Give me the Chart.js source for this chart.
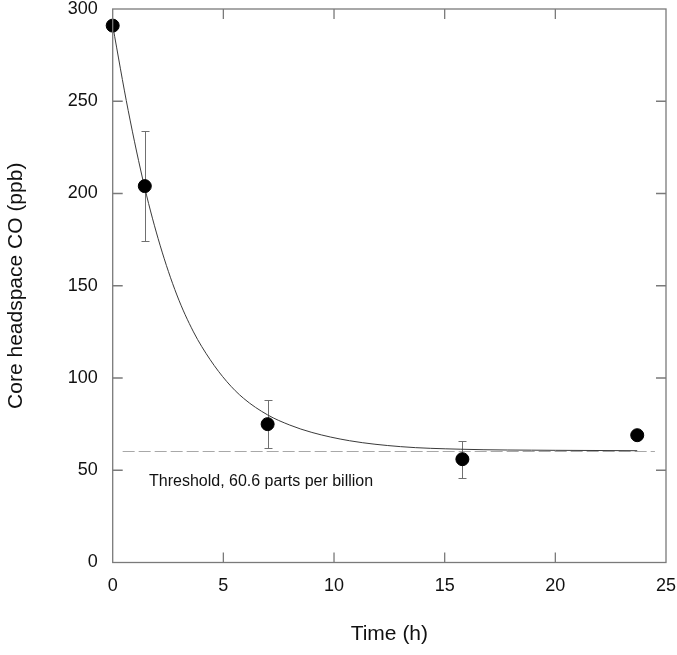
<!DOCTYPE html>
<html>
<head>
<meta charset="utf-8">
<script src="https://cdn.jsdelivr.net/npm/chart.js@4.4.1/dist/chart.umd.min.js"></script>
<style>
  html, body { margin: 0; padding: 0; background: #fff; }
  #wrap { width: 677px; height: 655px; position: relative; }
</style>
</head>
<body>
<div id="wrap"><canvas id="c" width="677" height="655"></canvas></div>
<script>
// ---- data ----
const times = [0, 1.45, 7.0, 15.8, 23.7];
const coValues = [291, 204, 75, 56, 69];
const coErrors = [0, 30, 13, 10, 0];

const fitTimes  = [0, 0.7, 1.45, 2.14, 2.9, 3.65, 4.4, 5.16, 5.91, 7.0, 8.0, 9.0, 10.7, 13.0, 15.7, 20.0, 23.7];
const fitValues = [291, 245, 203, 172, 145, 125, 110, 98, 89, 80, 74.5, 70.5, 66, 62.8, 61.4, 60.8, 60.6];

const thresholdValue = 60.6;
const thresholdRange = [0.45, 24.5];
const thresholdLabel = "Threshold, 60.6 parts per billion";
const thresholdLabelAt = [1.64, 43.8];

const xTicks = [0, 5, 10, 15, 20, 25];
const yTicks = [0, 50, 100, 150, 200, 250, 300];

const FONT = "'Liberation Sans', Arial, sans-serif";
const AXIS_COLOR = '#7a7a7a';

// ---- plugins ----
const framePlugin = {
  id: 'frame',
  afterDatasetsDraw(chart) {
    const {ctx, chartArea: a, scales: {x, y}} = chart;
    ctx.save();
    ctx.strokeStyle = AXIS_COLOR;
    ctx.lineWidth = 1.3;
    ctx.strokeRect(a.left, a.top, a.right - a.left, a.bottom - a.top);
    const L = 10;
    ctx.beginPath();
    xTicks.forEach(v => {
      const px = x.getPixelForValue(v);
      if (v !== 0 && v !== 25) {
        ctx.moveTo(px, a.bottom); ctx.lineTo(px, a.bottom - L);
        ctx.moveTo(px, a.top); ctx.lineTo(px, a.top + L);
      }
    });
    yTicks.forEach(v => {
      const py = y.getPixelForValue(v);
      if (v !== 0 && v !== 300) {
        ctx.moveTo(a.left, py); ctx.lineTo(a.left + L, py);
        ctx.moveTo(a.right, py); ctx.lineTo(a.right - L, py);
      }
    });
    ctx.stroke();
    ctx.restore();
  }
};

const overlayPlugin = {
  id: 'overlay',
  beforeDatasetsDraw(chart) {
    const {ctx, scales: {x, y}} = chart;
    ctx.save();
    // threshold line
    ctx.strokeStyle = '#a8a8a8';
    ctx.lineWidth = 1;
    ctx.setLineDash([12, 4]);
    ctx.beginPath();
    const ty = Math.round(y.getPixelForValue(thresholdValue)) + 0.5;
    ctx.moveTo(x.getPixelForValue(thresholdRange[0]), ty);
    ctx.lineTo(x.getPixelForValue(thresholdRange[1]), ty);
    ctx.stroke();
    ctx.setLineDash([]);
    // error bars
    ctx.strokeStyle = '#707070';
    ctx.lineWidth = 1;
    ctx.beginPath();
    times.forEach((t, i) => {
      const e = coErrors[i];
      if (!e) return;
      const px = Math.round(x.getPixelForValue(t)) + 0.5;
      const yt = Math.round(y.getPixelForValue(coValues[i] + e)) + 0.5;
      const yb = Math.round(y.getPixelForValue(coValues[i] - e)) + 0.5;
      ctx.moveTo(px, yt); ctx.lineTo(px, yb);
      ctx.moveTo(px - 4, yt); ctx.lineTo(px + 4, yt);
      ctx.moveTo(px - 4, yb); ctx.lineTo(px + 4, yb);
    });
    ctx.stroke();
    // label
    ctx.fillStyle = '#111';
    ctx.font = "16px " + FONT;
    ctx.textAlign = 'left';
    ctx.textBaseline = 'middle';
    ctx.fillText(thresholdLabel, x.getPixelForValue(thresholdLabelAt[0]), y.getPixelForValue(thresholdLabelAt[1]));
    ctx.restore();
  }
};

new Chart(document.getElementById('c'), {
  type: 'scatter',
  data: {
    datasets: [
      {
        label: 'CO',
        data: times.map((t, i) => ({x: t, y: coValues[i]})),
        backgroundColor: '#000',
        borderColor: '#000',
        pointRadius: 6.5,
        pointHoverRadius: 6.5,
        showLine: false,
        clip: false,
        order: 0
      },
      {
        label: 'fit',
        data: fitTimes.map((t, i) => ({x: t, y: fitValues[i]})),
        showLine: true,
        borderColor: '#3a3a3a',
        borderWidth: 1,
        pointRadius: 0,
        cubicInterpolationMode: 'monotone',
        fill: false,
        order: 1
      }
    ]
  },
  options: {
    responsive: false,
    animation: false,
    events: [],
    layout: { padding: { top: 9, right: 11, left: 0, bottom: 0 } },
    plugins: { legend: { display: false }, tooltip: { enabled: false } },
    scales: {
      x: {
        type: 'linear', min: 0, max: 25,
        afterBuildTicks: s => { s.ticks = xTicks.map(v => ({value: v})); },
        afterFit: s => { s.height = 92.5; s.paddingLeft = 0; s.paddingRight = 0; },
        grid: { display: false, drawTicks: false },
        border: { display: false },
        ticks: { color: '#111', font: { family: FONT, size: 18 }, padding: 13, maxRotation: 0 },
        title: { display: true, text: 'Time (h)', color: '#111', font: { family: FONT, size: 21 }, padding: { top: 0, bottom: 8 } }
      },
      y: {
        type: 'linear', min: 0, max: 300,
        afterBuildTicks: s => { s.ticks = yTicks.map(v => ({value: v})); },
        afterFit: s => { s.width = 112.7; s.paddingTop = 0; s.paddingBottom = 0; },
        grid: { display: false, drawTicks: false },
        border: { display: false },
        ticks: { color: '#111', font: { family: FONT, size: 18 }, padding: 15 },
        title: { display: true, text: 'Core headspace CO (ppb)', color: '#111', font: { family: FONT, size: 21 }, padding: { top: 4, bottom: 0 } }
      }
    }
  },
  plugins: [overlayPlugin, framePlugin]
});
</script>
</body>
</html>
